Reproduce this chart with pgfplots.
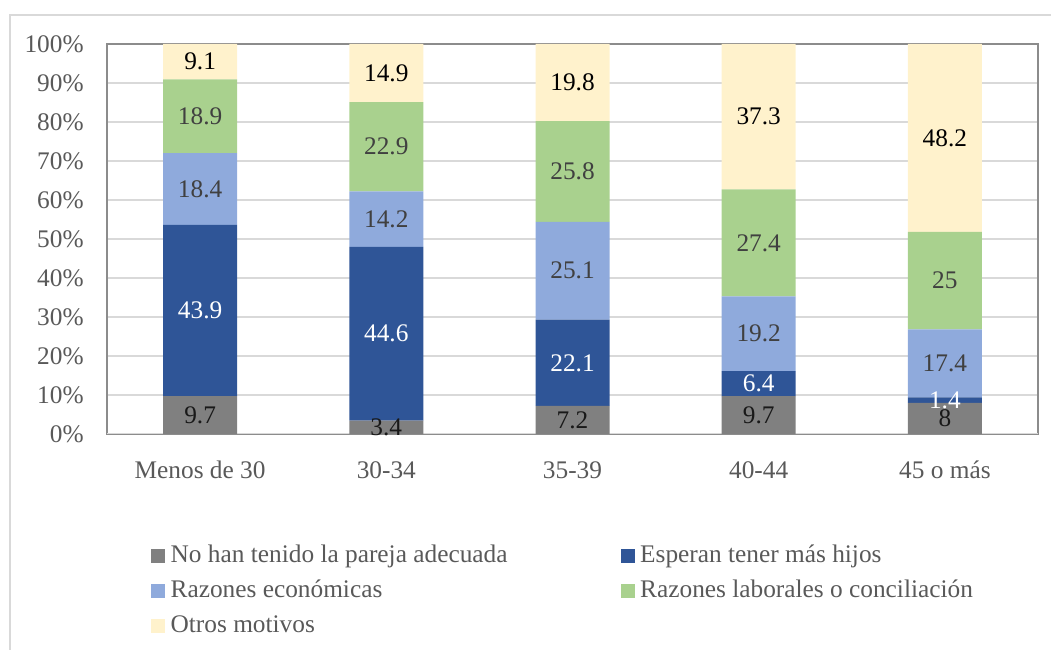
\documentclass[border=0pt]{standalone}
\usepackage{pgfplots}
\pgfplotsset{compat=1.18}
\usepackage{pgfplotstable}
\usepackage{fontspec}
\setmainfont{Liberation Serif}

\definecolor{cgray}{HTML}{808080}
\definecolor{cblue}{HTML}{2F5597}
\definecolor{clblue}{HTML}{8FAADC}
\definecolor{cgreen}{HTML}{A9D18E}
\definecolor{cyellow}{HTML}{FFF2CC}
\definecolor{ctext}{HTML}{595959}
\definecolor{cgrid}{HTML}{D9D9D9}
\definecolor{cframe}{HTML}{8C8C8C}

% Reasons for not having more children, by age group (%)
\pgfplotstableread{
x  pareja hijos economicas laborales otros
0  9.7    43.9  18.4       18.9      9.1
1  3.4    44.6  14.2       22.9      14.9
2  7.2    22.1  25.1       25.8      19.8
3  9.7    6.4   19.2       27.4      37.3
4  8      1.4   17.4       25        48.2
}\datatable

\newcommand\chartfont{\fontsize{19pt}{22pt}\selectfont}

\begin{document}
\chartfont
\begin{tikzpicture}
\useasboundingbox (0,0) rectangle (788.25pt,487.5pt);
% outer chart frame
\draw[cgrid, line width=1pt] (7.5pt,0) -- (7.5pt,476.25pt) -- (788.25pt,476.25pt);
\begin{axis}[
  at={(80.25pt,162pt)}, anchor=south west,
  scale only axis,
  width=698.25pt, height=292.5pt,
  ybar stacked,
  bar width=55.5pt,
  xmin=-0.5, xmax=4.5,
  ymin=0, ymax=100,
  xtick=data,
  xticklabels={Menos de 30,30-34,35-39,40-44,45 o más},
  ytick={0,10,...,100},
  yticklabel={\pgfmathprintnumber{\tick}\%},
  /pgf/number format/assume math mode=true,
  major tick length=0pt,
  ymajorgrids,
  grid style={cgrid, line width=1.2pt},
  axis line style={cframe, line width=1pt},
  tick label style={text=ctext, font=\chartfont},
  xticklabel style={yshift=-14pt},
  yticklabel style={xshift=-11pt},
  visualization depends on=rawy\as\rawy,
  nodes near coords={\pgfmathprintnumber{\rawy}},
  every node near coord/.append style={anchor=center, font=\chartfont},
  legend columns=2,
  legend cell align=left,
  legend style={draw=none, fill=none, at={(0.043,-0.27)}, anchor=north west,
    font=\chartfont, text=ctext,
    /tikz/every even column/.append style={column sep=81pt},
    nodes={inner xsep=4pt},
    row sep=6.5pt},
  legend image code/.code={\fill[#1] (0pt,-5.25pt) rectangle (10.5pt,5.25pt);},
]
\addplot[fill=cgray, draw=none, every node near coord/.append style={text=black!90}]
  table[x=x, y=pareja] {\datatable};
\addplot[fill=cblue, draw=none, every node near coord/.append style={text=white}]
  table[x=x, y=hijos] {\datatable};
\addplot[fill=clblue, draw=none, every node near coord/.append style={text=black!75}]
  table[x=x, y=economicas] {\datatable};
\addplot[fill=cgreen, draw=none, every node near coord/.append style={text=black!75}]
  table[x=x, y=laborales] {\datatable};
\addplot[fill=cyellow, draw=none, every node near coord/.append style={text=black}]
  table[x=x, y=otros] {\datatable};
\legend{No han tenido la pareja adecuada, Esperan tener más hijos, Razones económicas, Razones laborales o conciliación, Otros motivos}
\draw[cgrid, line width=1.2pt] (rel axis cs:0,0) -- (rel axis cs:1,0);
\end{axis}
\end{tikzpicture}
\end{document}
